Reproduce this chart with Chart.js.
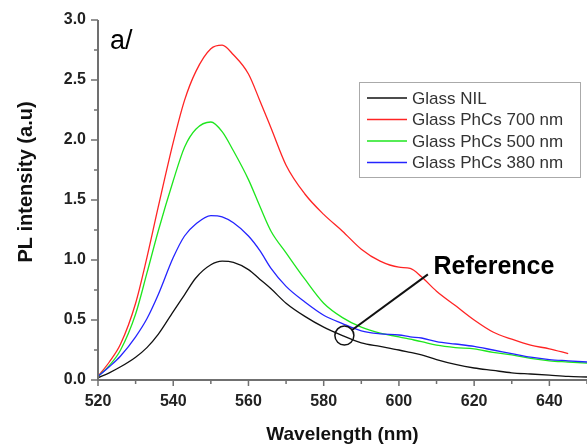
<!DOCTYPE html>
<html>
<head>
  <title>PL intensity vs wavelength</title>
  <script src="https://cdn.jsdelivr.net/npm/chart.js"></script>
  <style>
    body { margin: 0; padding: 0; background: #fff; }
    #wrap { width: 587px; height: 446px; }
  </style>
</head>
<body>
  <div id="wrap"><canvas id="plChart"></canvas></div>
  <script>
    // --- DATA ---
    const wavelength = [520, 523, 526, 530, 533, 536, 540, 543, 546, 550, 553, 556, 560, 563, 566, 570, 575,
                        580, 585, 590, 595, 600, 603, 606, 610, 615, 620, 625, 630, 635, 640, 645, 650];

    const glassNIL = [0.02, 0.06, 0.11, 0.19, 0.27, 0.38, 0.57, 0.71, 0.85, 0.96, 0.99, 0.98, 0.92, 0.84, 0.76, 0.64, 0.53,
                      0.44, 0.37, 0.31, 0.28, 0.25, 0.23, 0.21, 0.17, 0.13, 0.10, 0.08, 0.06, 0.05, 0.04, 0.03, 0.025];
    const phc700 = [0.03, 0.15, 0.30, 0.64, 1.02, 1.44, 1.98, 2.33, 2.57, 2.76, 2.79, 2.71, 2.55, 2.33, 2.10, 1.79, 1.55,
                    1.38, 1.24, 1.09, 0.99, 0.94, 0.93, 0.86, 0.74, 0.62, 0.50, 0.40, 0.34, 0.29, 0.26, 0.22, null];
    const phc500 = [0.03, 0.12, 0.25, 0.55, 0.89, 1.24, 1.66, 1.94, 2.09, 2.15, 2.07, 1.91, 1.67, 1.45, 1.24, 1.06, 0.84,
                    0.64, 0.52, 0.44, 0.39, 0.36, 0.34, 0.32, 0.29, 0.27, 0.26, 0.23, 0.21, 0.18, 0.16, 0.15, 0.14];
    const phc380 = [0.03, 0.11, 0.20, 0.36, 0.51, 0.71, 1.02, 1.20, 1.30, 1.37, 1.36, 1.31, 1.20, 1.08, 0.93, 0.78, 0.65,
                    0.54, 0.47, 0.41, 0.385, 0.375, 0.36, 0.35, 0.32, 0.30, 0.28, 0.25, 0.22, 0.19, 0.17, 0.16, 0.15];

    const seriesNames = ['Glass NIL', 'Glass PhCs 700 nm', 'Glass PhCs 500 nm', 'Glass PhCs 380 nm'];
    const seriesColors = ['#111111', '#ff2424', '#1ee61e', '#2424ff'];
    const seriesValues = [glassNIL, phc700, phc500, phc380];

    // "Reference" callout, in data units (wavelength, intensity)
    const refCircle = [585.5, 0.37];
    const refLineEnd = [607.7, 0.88];
    const refText = [609.2, 0.94];

    const FONT = "'Liberation Sans', Arial, sans-serif";

    // --- axes, legend and labels drawn on top ---
    const decorations = {
      id: 'decorations',
      afterDraw(chart) {
        const c = chart.ctx;
        const xs = chart.scales.x, ys = chart.scales.y;
        const a = chart.chartArea;
        c.save();

        // axis lines
        c.strokeStyle = '#707070';
        c.lineWidth = 2;
        c.beginPath();
        c.moveTo(a.left, a.top); c.lineTo(a.left, a.bottom + 1);
        c.moveTo(a.left - 1, a.bottom); c.lineTo(a.right, a.bottom);
        c.stroke();

        // tick marks (outward)
        c.lineWidth = 1.5;
        c.beginPath();
        ys.ticks.forEach(t => {
          const y = ys.getPixelForValue(t.value);
          const len = Math.abs(t.value * 2 - Math.round(t.value * 2)) < 1e-6 ? 7 : 4;
          c.moveTo(a.left - len, y); c.lineTo(a.left, y);
        });
        xs.ticks.forEach(t => {
          const x = xs.getPixelForValue(t.value);
          const len = t.value % 20 === 0 ? 6 : 4;
          c.moveTo(x, a.bottom); c.lineTo(x, a.bottom + len);
        });
        c.stroke();

        // y title
        c.fillStyle = '#111';
        c.font = 'bold 20px ' + FONT;
        c.textAlign = 'center';
        c.textBaseline = 'middle';
        c.translate(26, 182);
        c.rotate(-Math.PI / 2);
        c.fillText('PL intensity (a.u)', 0, 0);
        c.setTransform(1, 0, 0, 1, 0, 0);

        // panel label
        c.font = '27px ' + FONT;
        c.textAlign = 'left';
        c.textBaseline = 'alphabetic';
        c.fillStyle = '#000';
        c.fillText('a/', 110, 49);

        // legend
        c.strokeStyle = '#aaaaaa';
        c.lineWidth = 1;
        c.strokeRect(359.5, 82.5, 221, 95);
        c.font = '17px ' + FONT;
        c.textBaseline = 'middle';
        seriesNames.forEach((name, i) => {
          const y = 98 + i * 21.5;
          c.strokeStyle = seriesColors[i];
          c.lineWidth = 1.5;
          c.beginPath(); c.moveTo(367, y); c.lineTo(407, y); c.stroke();
          c.fillStyle = '#333';
          c.fillText(name, 412, y + 1);
        });

        // Reference callout
        const cx = xs.getPixelForValue(refCircle[0]), cy = ys.getPixelForValue(refCircle[1]);
        c.strokeStyle = '#111';
        c.lineWidth = 1.5;
        c.beginPath(); c.arc(cx, cy, 9.5, 0, Math.PI * 2); c.stroke();
        const ang = Math.atan2(ys.getPixelForValue(refLineEnd[1]) - cy, xs.getPixelForValue(refLineEnd[0]) - cx);
        c.lineWidth = 2;
        c.beginPath();
        c.moveTo(cx + 9.5 * Math.cos(ang), cy + 9.5 * Math.sin(ang));
        c.lineTo(xs.getPixelForValue(refLineEnd[0]), ys.getPixelForValue(refLineEnd[1]));
        c.stroke();
        c.fillStyle = '#000';
        c.font = 'bold 25px ' + FONT;
        c.fillText('Reference', xs.getPixelForValue(refText[0]), ys.getPixelForValue(refText[1]));

        c.restore();
      }
    };

    const ctx = document.getElementById('plChart').getContext('2d');
    new Chart(ctx, {
      type: 'line',
      data: {
        datasets: seriesValues.map((vals, i) => ({
          label: seriesNames[i],
          data: wavelength.map((w, k) => ({ x: w, y: vals[k] })),
          borderColor: seriesColors[i],
          borderWidth: 1.3,
          pointRadius: 0,
          cubicInterpolationMode: 'monotone',
          fill: false
        })).reverse()
      },
      options: {
        responsive: true,
        maintainAspectRatio: false,
        animation: false,
        layout: { padding: { top: 20, left: 0, right: 0, bottom: 0 } },
        plugins: { legend: { display: false }, tooltip: { enabled: false } },
        scales: {
          x: {
            type: 'linear',
            min: 520, max: 650,
            afterFit: s => { s.height = 66; s.paddingLeft = 0; s.paddingRight = 0; },
            grid: { display: false, drawTicks: false },
            border: { display: false },
            ticks: {
              stepSize: 10,
              padding: 12,
              maxRotation: 0,
              autoSkip: false,
              color: '#222',
              font: { family: FONT, size: 16, weight: 'bold' },
              callback: v => (v % 20 === 0 && v < 650) ? String(v) : ''
            },
            title: {
              display: true,
              text: 'Wavelength (nm)',
              color: '#111',
              font: { family: FONT, size: 19, weight: 'bold' },
              padding: { top: 6, bottom: 0 }
            }
          },
          y: {
            min: 0, max: 3,
            afterFit: s => { s.width = 98; s.paddingTop = 0; s.paddingBottom = 0; },
            grid: { display: false, drawTicks: false },
            border: { display: false },
            ticks: {
              stepSize: 0.25,
              padding: 12,
              autoSkip: false,
              color: '#222',
              font: { family: FONT, size: 16, weight: 'bold' },
              callback: v => Math.abs(v * 2 - Math.round(v * 2)) < 1e-6 ? v.toFixed(1) : ''
            }
          }
        }
      },
      plugins: [decorations]
    });
  </script>
</body>
</html>
